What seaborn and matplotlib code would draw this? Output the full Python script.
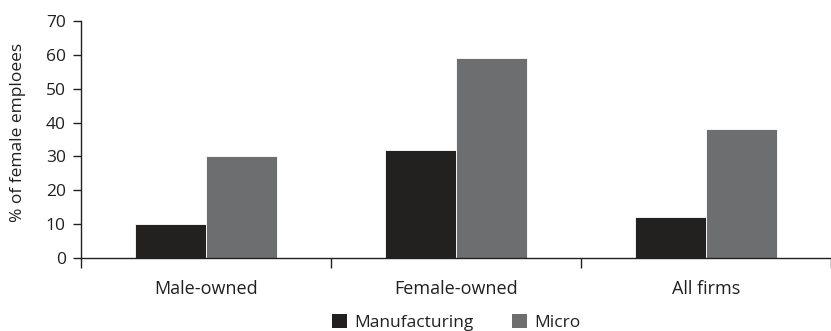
import matplotlib
matplotlib.use("Agg")
import matplotlib.pyplot as plt
import seaborn as sns
import pandas as pd
from matplotlib.patches import Patch

categories = ["Male-owned", "Female-owned", "All firms"]
series = ["Manufacturing", "Micro"]
manufacturing = [10, 32, 12]
micro = [30, 59, 38]
y_ticks = [0, 10, 20, 30, 40, 50, 60, 70]

df = pd.DataFrame({
    "category": categories * 2,
    "series": [series[0]] * 3 + [series[1]] * 3,
    "value": manufacturing + micro,
})

sns.set_theme(style="white")
plt.rcParams["font.family"] = ["Open Sans", "DejaVu Sans"]
ink = "#231f20"
colors = ["#231f20", "#6d6e70"]

fig = plt.figure(figsize=(8.31, 3.31), dpi=100)
ax = fig.add_axes([81 / 831, 73 / 331, 750 / 831, 237 / 331])

sns.barplot(data=df, x="category", y="value", hue="series", order=categories,
            hue_order=series, palette=colors, width=0.57,
            edgecolor="white", linewidth=0.6, ax=ax, legend=False)

ax.set_xlim(-0.5, 2.5)
ax.set_ylim(0, 70)
ax.set_yticks(y_ticks)
ax.set_xlabel("")
ax.set_ylabel("% of female emploees", fontsize=12.5, color=ink)
ax.yaxis.set_label_coords(-0.073, 0.53)

for side in ["top", "right"]:
    ax.spines[side].set_visible(False)
for side in ["left", "bottom"]:
    ax.spines[side].set_color(ink)
    ax.spines[side].set_linewidth(1.0)

ax.tick_params(axis="y", which="major", left=True, length=6, width=1.0,
               color=ink, labelsize=12.5, labelcolor=ink, pad=5)
ax.tick_params(axis="x", which="major", bottom=False, length=0,
               labelsize=13, labelcolor=ink, pad=16)
ax.set_xticks([-0.5, 0.5, 1.5, 2.5], minor=True)
ax.tick_params(axis="x", which="minor", bottom=True, length=7, width=1.0,
               color=ink)

handles = [Patch(facecolor=colors[0], edgecolor="none"),
           Patch(facecolor=colors[1], edgecolor="none")]
fig.legend(handles, series, loc="lower center", bbox_to_anchor=(456 / 831, -0.047),
           ncol=2, frameon=False, fontsize=12.5, handlelength=0.9,
           handleheight=0.9, handletextpad=0.4, columnspacing=2.2,
           labelcolor=ink)

fig.savefig("out.png", dpi=100)
